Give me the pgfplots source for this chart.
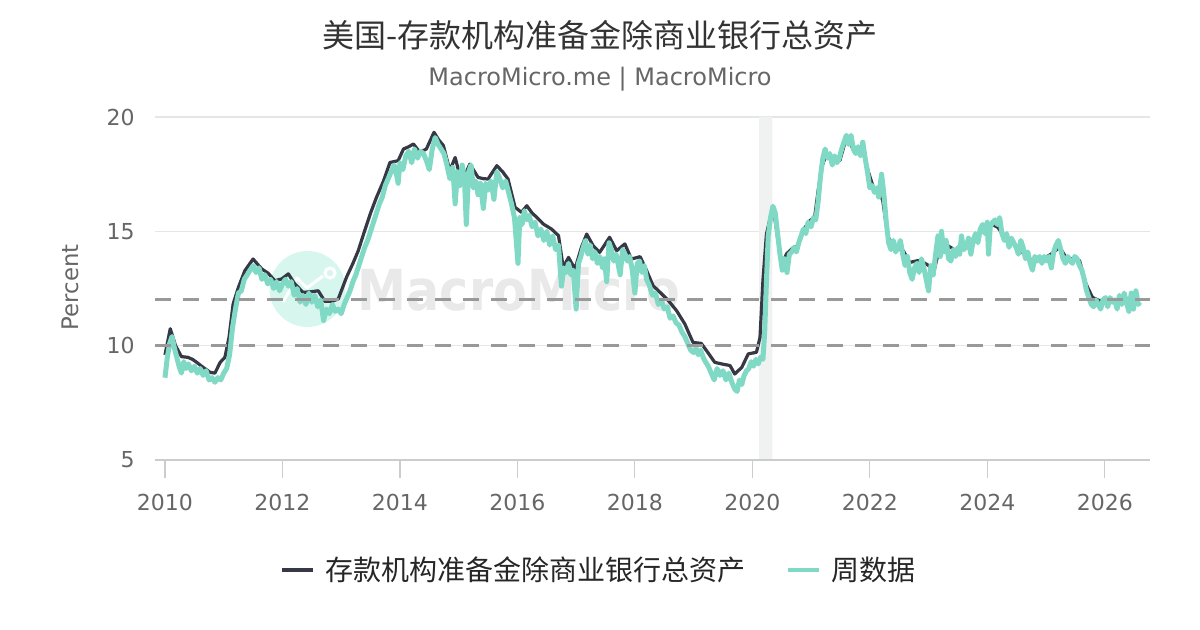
\documentclass[border=0pt]{standalone}
\usepackage{pgfplots}
\pgfplotsset{compat=1.18}
\usepackage{fontspec}
\setmainfont{DejaVu Sans}
\newfontfamily\cjk{Noto Sans CJK SC}
\definecolor{darkline}{HTML}{363945}
\definecolor{tealw}{HTML}{7FD9C4}
\definecolor{gridc}{HTML}{E6E6E6}
\definecolor{axisc}{HTML}{CCCCCC}
\definecolor{dashc}{HTML}{999999}
\definecolor{textgray}{HTML}{666666}
\definecolor{titlec}{HTML}{333333}
\definecolor{mint}{HTML}{D7F7EE}
\definecolor{wmtext}{HTML}{E9E9E9}
\definecolor{bandc}{HTML}{F0F1F1}

\begin{document}
\begin{tikzpicture}[x=1pt,y=1pt]
\path[use as bounding box] (-77.5,-85) rectangle (522.5,230);
% watermark
\fill[mint] (76.25,85.5) circle (19);
\draw[white, line width=1.5pt, line join=round] (64,79) -- (71,91) -- (76,86) -- (84,92);
\draw[white, line width=1.5pt] (87.5,93.5) circle (2.5);
\node[text=wmtext, font=\bfseries\fontsize{24.6}{30}\selectfont, yscale=1.15] at (182,85.5) {MacroMicro};
% title
\node[font=\cjk\fontsize{16}{19}\selectfont, text=titlec] at (222.5,212.5) {美国-存款机构准备金除商业银行总资产};
\node[font=\fontsize{12}{14}\selectfont, text=textgray] at (222.5,190.5) {MacroMicro.me | MacroMicro};
\begin{axis}[
  scale only axis, width=497.5pt, height=171.5pt,
  xmin=2009.83, xmax=2026.77, ymin=5, ymax=20,
  axis line style={draw=none},
  xtick={2010,2012,2014,2016,2018,2020,2022,2024,2026},
  xticklabels={2010,2012,2014,2016,2018,2020,2022,2024,2026},
  ytick={5,10,15,20},
  yticklabels={5,10,15,20},
  xtick pos=bottom, ytick pos=left,
  tick align=outside,
  major tick length=9pt,
  xtick style={draw=axisc, line width=0.6pt},
  ytick style={draw=none},
  ymajorgrids, grid style={draw=gridc, line width=0.6pt},
  tick label style={font=\fontsize{11}{13}\selectfont, text=textgray},
  xticklabel style={inner sep=0pt, anchor=north, yshift=-8pt},
  yticklabel style={inner sep=0pt, anchor=east, xshift=-1pt},
  ylabel={Percent},
  ylabel style={at={(axis description cs:-0.0854,0.504)}, anchor=center, font=\fontsize{11.4}{13}\selectfont, text=textgray},
  legend style={at={(0.4472,-0.3207)}, anchor=center, draw=none, fill=none,
    legend columns=2, font=\cjk\fontsize{14}{16}\selectfont, text=black!85,
    /tikz/every even column/.append style={column sep=18.5pt}},
  legend cell align=left,
  legend image code/.code={\draw[#1, line width=2pt] (0pt,0pt) -- (15.5pt,0pt); \path (18.5pt,0pt);},
  clip=false,
]
\addplot[forget plot, fill=bandc, draw=none] coordinates {(2020.115,5) (2020.34,5) (2020.34,20) (2020.115,20)} \closedcycle;
\draw[axisc, line width=1pt] (axis cs:2009.83,5) -- (axis cs:2026.77,5);

\addplot[darkline, line width=1.6pt, line join=round] coordinates {
(2010.00,9.6) (2010.09,10.74) (2010.18,10.0) (2010.28,9.52) (2010.39,9.49) (2010.47,9.4)
(2010.54,9.27) (2010.65,9.05) (2010.77,8.83) (2010.85,8.8) (2010.94,9.27) (2011.02,9.49)
(2011.09,10.36) (2011.16,11.82) (2011.25,12.55) (2011.36,13.28) (2011.50,13.79) (2011.58,13.55)
(2011.65,13.35) (2011.76,13.16) (2011.87,12.84) (2011.99,12.92) (2012.10,13.14) (2012.21,12.7)
(2012.35,12.33) (2012.50,12.36) (2012.61,12.4) (2012.72,11.94) (2012.84,11.94) (2012.95,12.04)
(2013.09,12.99) (2013.20,13.6) (2013.29,14.15) (2013.40,15.03) (2013.50,15.8) (2013.60,16.48)
(2013.72,17.2) (2013.83,18.01) (2013.97,18.09) (2014.06,18.6) (2014.15,18.7) (2014.23,18.82)
(2014.34,18.45) (2014.45,18.6) (2014.58,19.33) (2014.66,19.0) (2014.74,18.75) (2014.85,17.65)
(2014.94,18.23) (2015.05,17.14) (2015.19,17.94) (2015.33,17.36) (2015.42,17.3) (2015.50,17.29)
(2015.65,17.87) (2015.75,17.6) (2015.84,17.29) (2015.96,16.05) (2016.07,15.83) (2016.16,16.12)
(2016.25,15.8) (2016.33,15.61) (2016.44,15.32) (2016.58,15.1) (2016.70,14.81) (2016.78,13.42)
(2016.87,13.86) (2016.98,13.35) (2017.09,14.3) (2017.18,14.88) (2017.29,14.37) (2017.40,14.08)
(2017.57,14.74) (2017.69,14.15) (2017.83,14.45) (2017.94,13.79) (2018.09,13.89) (2018.20,13.28)
(2018.31,12.62) (2018.43,12.33) (2018.57,11.97) (2018.71,11.53) (2018.85,10.95) (2018.99,10.14)
(2019.13,10.1) (2019.22,9.78) (2019.36,9.27) (2019.48,9.2) (2019.62,9.13) (2019.70,8.76)
(2019.82,9.05) (2019.93,9.64) (2020.07,9.71) (2020.13,10.36) (2020.18,12.84) (2020.24,14.88)
(2020.33,15.87) (2020.38,15.61) (2020.50,13.5) (2020.58,14.01) (2020.70,14.3) (2020.78,14.37)
(2020.86,15.03) (2020.98,15.47) (2021.06,15.61) (2021.12,16.78) (2021.18,17.8) (2021.26,18.38)
(2021.38,18.16) (2021.49,18.09) (2021.57,18.82) (2021.66,18.89) (2021.74,18.45) (2021.89,18.45)
(2021.97,17.65) (2022.06,16.92) (2022.17,16.7) (2022.22,16.34) (2022.31,14.74) (2022.43,14.3)
(2022.57,14.15) (2022.68,13.64) (2022.82,13.72) (2022.94,13.6) (2023.10,13.35) (2023.19,14.3)
(2023.33,14.37) (2023.47,14.15) (2023.62,14.3) (2023.81,14.81) (2023.93,15.1) (2024.07,15.32)
(2024.18,15.17) (2024.30,14.74) (2024.41,14.52) (2024.55,14.23) (2024.67,13.86) (2024.78,13.72)
(2024.95,13.79) (2025.09,14.01) (2025.23,14.3) (2025.34,13.86) (2025.45,13.79) (2025.57,13.72)
(2025.68,12.7) (2025.79,12.11) (2025.91,11.97) (2026.02,12.0) (2026.13,11.97) (2026.25,12.04)
(2026.36,11.97) (2026.47,12.0) (2026.55,11.98)
};
\addlegendentry{存款机构准备金除商业银行总资产}

\addplot[tealw, line width=2.5pt, line join=round] coordinates {
(2010.00,8.6) (2010.04,9.5) (2010.08,10.1) (2010.12,10.4) (2010.16,9.9) (2010.20,9.5) (2010.24,9.1)
(2010.28,8.8) (2010.32,9.3) (2010.36,9.0) (2010.40,9.2) (2010.45,8.9) (2010.50,9.1) (2010.55,8.8)
(2010.60,9.0) (2010.65,8.7) (2010.70,8.9) (2010.75,8.5) (2010.80,8.6) (2010.85,8.4) (2010.90,8.6)
(2010.95,8.5) (2011.00,8.8) (2011.05,9.0) (2011.10,9.6) (2011.15,10.8) (2011.20,11.6) (2011.25,12.3)
(2011.30,12.4) (2011.35,12.9) (2011.40,13.1) (2011.45,13.3) (2011.50,13.5) (2011.55,13.2) (2011.60,13.4)
(2011.65,12.9) (2011.70,13.1) (2011.75,12.7) (2011.80,12.9) (2011.85,12.5) (2011.90,12.8) (2011.95,12.4)
(2012.00,12.7) (2012.05,12.9) (2012.10,12.6) (2012.15,12.8) (2012.20,12.2) (2012.25,12.5) (2012.30,11.9)
(2012.35,12.2) (2012.40,11.8) (2012.45,12.3) (2012.50,11.9) (2012.55,12.2) (2012.60,11.7) (2012.65,12.0)
(2012.70,11.1) (2012.75,11.6) (2012.80,11.4) (2012.85,11.8) (2012.90,11.5) (2012.95,11.6) (2013.00,11.4)
(2013.05,11.8) (2013.10,12.1) (2013.15,12.4) (2013.20,12.8) (2013.25,13.1) (2013.30,13.5) (2013.35,13.9)
(2013.40,14.3) (2013.45,14.6) (2013.50,15.0) (2013.55,15.4) (2013.60,15.8) (2013.65,16.2) (2013.70,16.5)
(2013.75,17.0) (2013.80,17.3) (2013.85,17.6) (2013.90,17.9) (2013.94,17.5) (2013.97,17.1) (2014.00,18.0)
(2014.05,17.7) (2014.10,18.3) (2014.15,18.5) (2014.20,18.0) (2014.25,18.6) (2014.30,18.2) (2014.35,18.5)
(2014.40,18.4) (2014.45,18.1) (2014.50,17.7) (2014.55,18.6) (2014.60,19.1) (2014.65,18.8) (2014.70,18.6)
(2014.75,18.4) (2014.80,17.9) (2014.85,17.3) (2014.90,17.8) (2014.94,16.2) (2014.98,17.6) (2015.02,17.0)
(2015.06,17.9) (2015.10,17.2) (2015.13,15.3) (2015.17,17.6) (2015.21,17.9) (2015.25,16.9) (2015.29,17.2)
(2015.33,16.6) (2015.37,17.1) (2015.42,16.0) (2015.46,17.1) (2015.50,16.8) (2015.55,17.2) (2015.60,16.4)
(2015.65,17.6) (2015.70,17.3) (2015.75,16.9) (2015.80,17.2) (2015.85,16.7) (2015.90,16.2) (2015.95,15.6)
(2016.01,13.6) (2016.04,15.6) (2016.08,15.3) (2016.12,15.9) (2016.16,15.5) (2016.20,15.7) (2016.25,15.2)
(2016.30,15.4) (2016.35,14.8) (2016.40,15.1) (2016.45,14.6) (2016.50,15.0) (2016.55,14.4) (2016.60,14.8)
(2016.65,14.2) (2016.70,14.4) (2016.75,12.6) (2016.79,13.4) (2016.83,13.2) (2016.87,13.6) (2016.91,13.1)
(2016.95,13.3) (2017.00,11.6) (2017.04,13.6) (2017.08,13.9) (2017.12,14.3) (2017.16,14.6) (2017.20,14.0)
(2017.24,14.4) (2017.28,13.8) (2017.32,14.1) (2017.36,13.6) (2017.40,13.9) (2017.45,13.4) (2017.48,13.8)
(2017.52,12.8) (2017.56,14.5) (2017.60,14.2) (2017.64,13.7) (2017.68,14.0) (2017.72,13.5) (2017.75,13.1)
(2017.79,14.2) (2017.83,14.0) (2017.87,13.7) (2017.91,13.9) (2017.95,13.4) (2018.00,12.3) (2018.04,13.6)
(2018.08,13.7) (2018.12,13.2) (2018.16,13.5) (2018.20,12.9) (2018.25,12.6) (2018.30,12.2) (2018.35,12.3)
(2018.40,11.8) (2018.45,12.0) (2018.50,11.6) (2018.55,11.7) (2018.60,11.2) (2018.65,11.3) (2018.70,11.0)
(2018.75,10.9) (2018.80,10.6) (2018.85,10.4) (2018.90,10.1) (2018.95,9.8) (2019.00,9.7) (2019.04,9.9)
(2019.08,9.6) (2019.12,9.8) (2019.16,9.5) (2019.20,9.3) (2019.25,9.1) (2019.30,8.8) (2019.35,8.5)
(2019.40,9.0) (2019.45,8.7) (2019.50,8.9) (2019.55,8.5) (2019.60,8.8) (2019.65,8.4) (2019.70,8.1)
(2019.74,8.0) (2019.78,8.5) (2019.82,8.3) (2019.86,8.7) (2019.90,8.9) (2019.94,9.0) (2019.98,9.3)
(2020.02,9.1) (2020.06,9.4) (2020.10,9.2) (2020.14,9.5) (2020.18,9.4) (2020.21,10.6) (2020.24,12.8)
(2020.27,14.8) (2020.31,15.6) (2020.35,16.1) (2020.39,15.8) (2020.43,14.9) (2020.47,14.0) (2020.51,13.3)
(2020.55,13.8) (2020.59,13.2) (2020.63,14.0) (2020.67,14.1) (2020.71,14.3) (2020.75,14.1) (2020.79,14.5)
(2020.83,14.8) (2020.87,15.1) (2020.91,14.9) (2020.95,15.4) (2021.00,15.2) (2021.04,15.6) (2021.08,15.5)
(2021.12,16.3) (2021.16,17.4) (2021.20,18.2) (2021.24,18.6) (2021.28,18.2) (2021.32,18.4) (2021.36,17.9)
(2021.40,18.3) (2021.44,18.0) (2021.48,18.2) (2021.52,18.6) (2021.56,18.9) (2021.60,19.2) (2021.64,18.8)
(2021.68,19.2) (2021.72,18.6) (2021.76,18.4) (2021.80,18.7) (2021.84,18.3) (2021.88,18.9) (2021.92,18.2)
(2021.96,17.6) (2022.00,16.9) (2022.04,17.0) (2022.08,16.7) (2022.12,16.9) (2022.15,16.5) (2022.20,17.5)
(2022.24,16.6) (2022.28,15.4) (2022.32,14.5) (2022.36,14.2) (2022.40,14.6) (2022.44,14.1) (2022.48,14.3)
(2022.52,14.6) (2022.56,14.0) (2022.60,13.5) (2022.64,13.9) (2022.68,13.2) (2022.72,12.9) (2022.76,13.4)
(2022.80,13.6) (2022.84,13.2) (2022.88,13.8) (2022.92,13.4) (2022.96,12.9) (2023.00,12.4) (2023.04,13.5)
(2023.08,13.1) (2023.12,14.0) (2023.16,14.8) (2023.20,13.9) (2023.22,15.0) (2023.26,14.1) (2023.30,14.6)
(2023.34,13.8) (2023.38,13.7) (2023.42,14.2) (2023.46,13.9) (2023.50,14.3) (2023.53,14.0) (2023.56,14.8)
(2023.60,14.2) (2023.64,14.3) (2023.68,14.7) (2023.72,14.0) (2023.76,14.6) (2023.80,14.9) (2023.84,14.5)
(2023.88,15.1) (2023.92,15.3) (2023.96,14.9) (2024.00,15.4) (2024.02,14.0) (2024.05,15.2) (2024.09,15.4)
(2024.13,15.5) (2024.17,15.3) (2024.21,15.6) (2024.25,14.9) (2024.29,14.6) (2024.33,14.9) (2024.37,14.3)
(2024.41,14.7) (2024.45,14.5) (2024.49,14.3) (2024.53,14.0) (2024.57,14.6) (2024.61,14.3) (2024.65,13.8)
(2024.69,14.1) (2024.73,13.6) (2024.77,13.3) (2024.81,13.9) (2024.85,13.7) (2024.89,13.9) (2024.93,13.6)
(2024.97,13.9) (2025.01,13.7) (2025.05,13.9) (2025.09,13.4) (2025.13,14.1) (2025.17,14.4) (2025.21,14.6)
(2025.25,14.2) (2025.29,13.8) (2025.33,13.6) (2025.37,13.9) (2025.41,13.7) (2025.45,13.6) (2025.49,13.9)
(2025.53,13.8) (2025.57,13.5) (2025.61,13.3) (2025.65,12.9) (2025.69,12.4) (2025.73,12.1) (2025.77,11.8)
(2025.81,11.7) (2025.85,12.0) (2025.89,11.8) (2025.93,11.6) (2025.97,12.0) (2026.01,12.1) (2026.05,11.7)
(2026.09,12.1) (2026.13,11.9) (2026.17,12.0) (2026.21,11.6) (2026.25,12.2) (2026.29,11.8) (2026.33,12.3)
(2026.37,11.9) (2026.41,11.5) (2026.45,12.3) (2026.49,11.6) (2026.53,12.4) (2026.57,11.8) (2026.60,11.9)
};
\addlegendentry{周数据}

\addplot[forget plot, dashc, line width=1.5pt, dash pattern=on 8pt off 6pt] coordinates {(2009.83,10) (2026.77,10)};
\addplot[forget plot, dashc, line width=1.5pt, dash pattern=on 8pt off 6pt] coordinates {(2009.83,12) (2026.77,12)};
\end{axis}
\end{tikzpicture}
\end{document}
